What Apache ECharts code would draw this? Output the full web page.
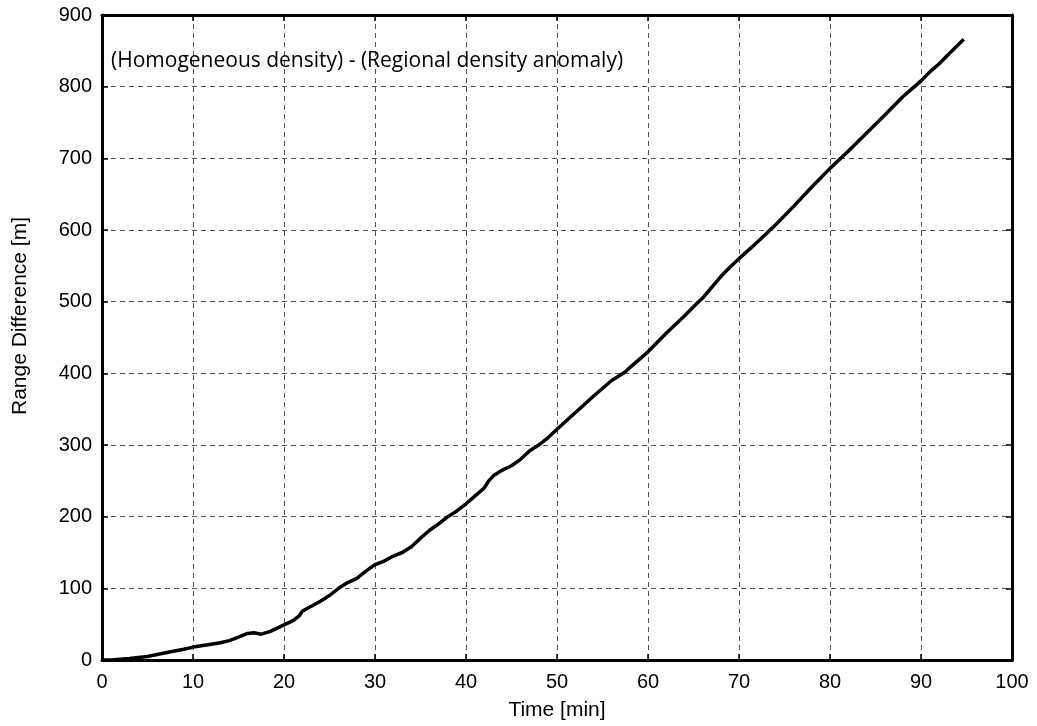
<!DOCTYPE html>
<html>
<head>
<meta charset="utf-8">
<script src="https://cdn.jsdelivr.net/npm/echarts@6/dist/echarts.min.js"></script>
<style>html,body{margin:0;padding:0;background:#fff}#c{width:1037px;height:726px}</style>
</head>
<body>
<div id="c"></div>
<script>
const timeMin = [0,1,2,3,5,7,9,10,12,13,14,15,16,16.7,17.5,18.5,20,21,21.7,22,23,24,25,26,27,28,29,30,31,32,33,34,35,36,37,38,39,40,41,42,42.5,43,44,45,46,47,48,49,50,52,54,56,57.5,58,60,62,64,65,66,67,68,69,70,72,74,76,78,80,82,84,86,88,89,90,91,92,93,94.7];
const rangeDiff = [0,0,1,2,5,10,15,18,22,24,27,32,37,38,36,40,49,55,62,68,75,82,90,100,108,114,124,133,138,145,150,158,170,181,190,200,208,218,229,240,250,257,265,271,280,292,300,310,322,345,368,390,402,408,430,456,480,493,505,520,535,548,560,583,607,633,660,686,710,735,760,786,797,808,821,832,845,866];
const annotation = '(Homogeneous density) - (Regional density anomaly)';
const xName = 'Time [min]';
const yName = 'Range Difference [m]';

const chart = echarts.init(document.getElementById('c'));
const font = 'Liberation Sans, Arial, sans-serif';
const gridLine = {show:true, lineStyle:{color:'#555', type:[5,4], width:1}};
const baseAxis = {
  axisLine:{show:true, onZero:false, lineStyle:{color:'#000', width:3}},
  axisTick:{show:true, inside:true, length:6, lineStyle:{color:'#000', width:1.5}},
};
chart.setOption({
  animation:false,
  grid:{left:102, right:25, top:15, bottom:65},
  title:{text:annotation, left:106, top:46, textStyle:{fontFamily:'Open Sans, Noto Sans, sans-serif', fontSize:21, fontWeight:'normal', color:'#000'}},
  graphic:[{
    type:'text', rotation: Math.PI/2,
    x: 20, y: 316,
    style:{text:yName, font:'21px ' + font, fill:'#000', textAlign:'center', textVerticalAlign:'middle'}
  }],
  xAxis:[
    Object.assign({type:'value', min:0, max:100, interval:10, position:'bottom',
      name:xName, nameLocation:'middle', nameGap:40,
      nameTextStyle:{fontFamily:font, fontSize:21, color:'#000'},
      axisLabel:{fontFamily:font, fontSize:20, color:'#000', margin:12},
      splitLine:gridLine}, baseAxis),
    Object.assign({type:'value', min:0, max:100, interval:10, position:'top',
      axisLabel:{show:false}, splitLine:{show:false}}, baseAxis)
  ],
  yAxis:[
    Object.assign({type:'value', min:0, max:900, interval:100, position:'left',
      axisLabel:{fontFamily:font, fontSize:20, color:'#000', margin:10},
      splitLine:gridLine}, baseAxis),
    Object.assign({type:'value', min:0, max:900, interval:100, position:'right',
      axisLabel:{show:false}, splitLine:{show:false}}, baseAxis)
  ],
  series:[{
    type:'line', xAxisIndex:0, yAxisIndex:0,
    data: timeMin.map((t,i)=>[t, rangeDiff[i]]),
    showSymbol:false, symbol:'none',
    lineStyle:{color:'#000', width:3.5},
    smooth:false
  }]
});
</script>
</body>
</html>
